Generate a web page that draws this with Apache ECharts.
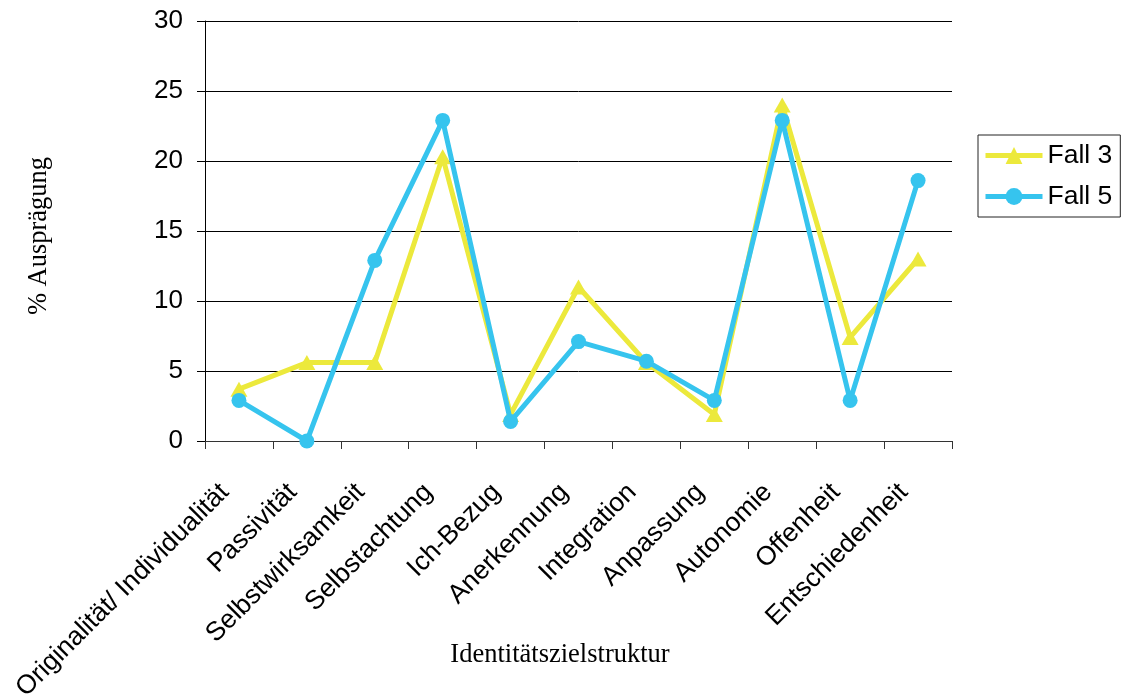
<!DOCTYPE html>
<html>
<head>
<meta charset="utf-8">
<script src="https://cdn.jsdelivr.net/npm/echarts@6/dist/echarts.min.js"></script>
<style>
  html, body { margin: 0; padding: 0; background: #fff; }
  #chart { width: 1123px; height: 695px; }
</style>
</head>
<body>
<div id="chart"></div>
<script>
// Categories of the identity goal structure
const categories = [
  'Originalität/ Individualität', 'Passivität', 'Selbstwirksamkeit', 'Selbstachtung',
  'Ich-Bezug', 'Anerkennung', 'Integration', 'Anpassung', 'Autonomie',
  'Offenheit', 'Entschiedenheit'
];

// Percentage values per case
const fall3 = [3.7, 5.6, 5.6, 20.3, 1.9, 11.0, 5.6, 1.9, 24.0, 7.4, 13.0];
const fall5 = [2.9, 0.0, 12.9, 22.9, 1.4, 7.1, 5.7, 2.9, 22.9, 2.9, 18.6];

const seriesNames = ['Fall 3', 'Fall 5'];
const yTicks = { min: 0, max: 30, step: 5 };

const sansFont = '"Liberation Sans", Arial, Helvetica, sans-serif';
const serifFont = '"Liberation Serif", "Times New Roman", serif';
const yellow = '#ECE93C';
const blue = '#36C4EE';

const chart = echarts.init(document.getElementById('chart'), null, { renderer: 'canvas' });

chart.setOption({
  animation: false,
  backgroundColor: '#ffffff',
  grid: { left: 205, right: 171, top: 21, bottom: 254, containLabel: false, outerBoundsMode: 'none' },
  legend: {
    orient: 'vertical',
    left: 978,
    top: 135,
    padding: [7, 8, 7, 5],
    itemGap: 14,
    itemWidth: 57,
    itemHeight: 21,
    borderColor: '#222',
    borderWidth: 1,
    lineStyle: { width: 5 },
    textStyle: { fontFamily: sansFont, fontSize: 26.5, color: '#000' },
    data: seriesNames
  },
  xAxis: {
    type: 'category',
    data: categories,
    boundaryGap: true,
    name: 'Identitätszielstruktur',
    nameLocation: 'middle',
    nameGap: 201,
    nameMoveOverlap: false,
    nameTextStyle: { fontFamily: serifFont, fontSize: 26.5, color: '#000', padding: [0, 37, 0, 0] },
    axisLine: { lineStyle: { color: '#333', width: 1 } },
    axisTick: { show: true, alignWithLabel: false, length: 8, lineStyle: { color: '#333' } },
    axisLabel: {
      interval: 0,
      rotate: 45,
      margin: 33,
      padding: [0, 20, 12, 0],
      fontFamily: sansFont,
      fontSize: 26.5,
      color: '#000'
    },
    splitLine: { show: false }
  },
  yAxis: {
    type: 'value',
    min: yTicks.min,
    max: yTicks.max,
    interval: yTicks.step,
    name: '% Ausprägung',
    nameLocation: 'middle',
    nameGap: 152,
    nameMoveOverlap: false,
    nameTextStyle: { fontFamily: serifFont, fontSize: 26.5, color: '#000', padding: [0, 10, 0, 0] },
    axisLine: { show: true, lineStyle: { color: '#000', width: 1 } },
    axisTick: { show: true, length: 8, lineStyle: { color: '#000' } },
    axisLabel: { margin: 22, fontFamily: sansFont, fontSize: 26, color: '#000' },
    splitLine: { show: true, lineStyle: { color: '#000', width: 1 } }
  },
  series: [
    {
      name: seriesNames[0],
      type: 'line',
      data: fall3,
      symbol: 'triangle',
      symbolSize: [17, 15],
      lineStyle: { color: yellow, width: 5 },
      itemStyle: { color: yellow, borderWidth: 0 },
      z: 2
    },
    {
      name: seriesNames[1],
      type: 'line',
      data: fall5,
      symbol: 'circle',
      symbolSize: 15,
      lineStyle: { color: blue, width: 5 },
      itemStyle: { color: blue, borderWidth: 0 },
      z: 3
    }
  ]
});
</script>
</body>
</html>
